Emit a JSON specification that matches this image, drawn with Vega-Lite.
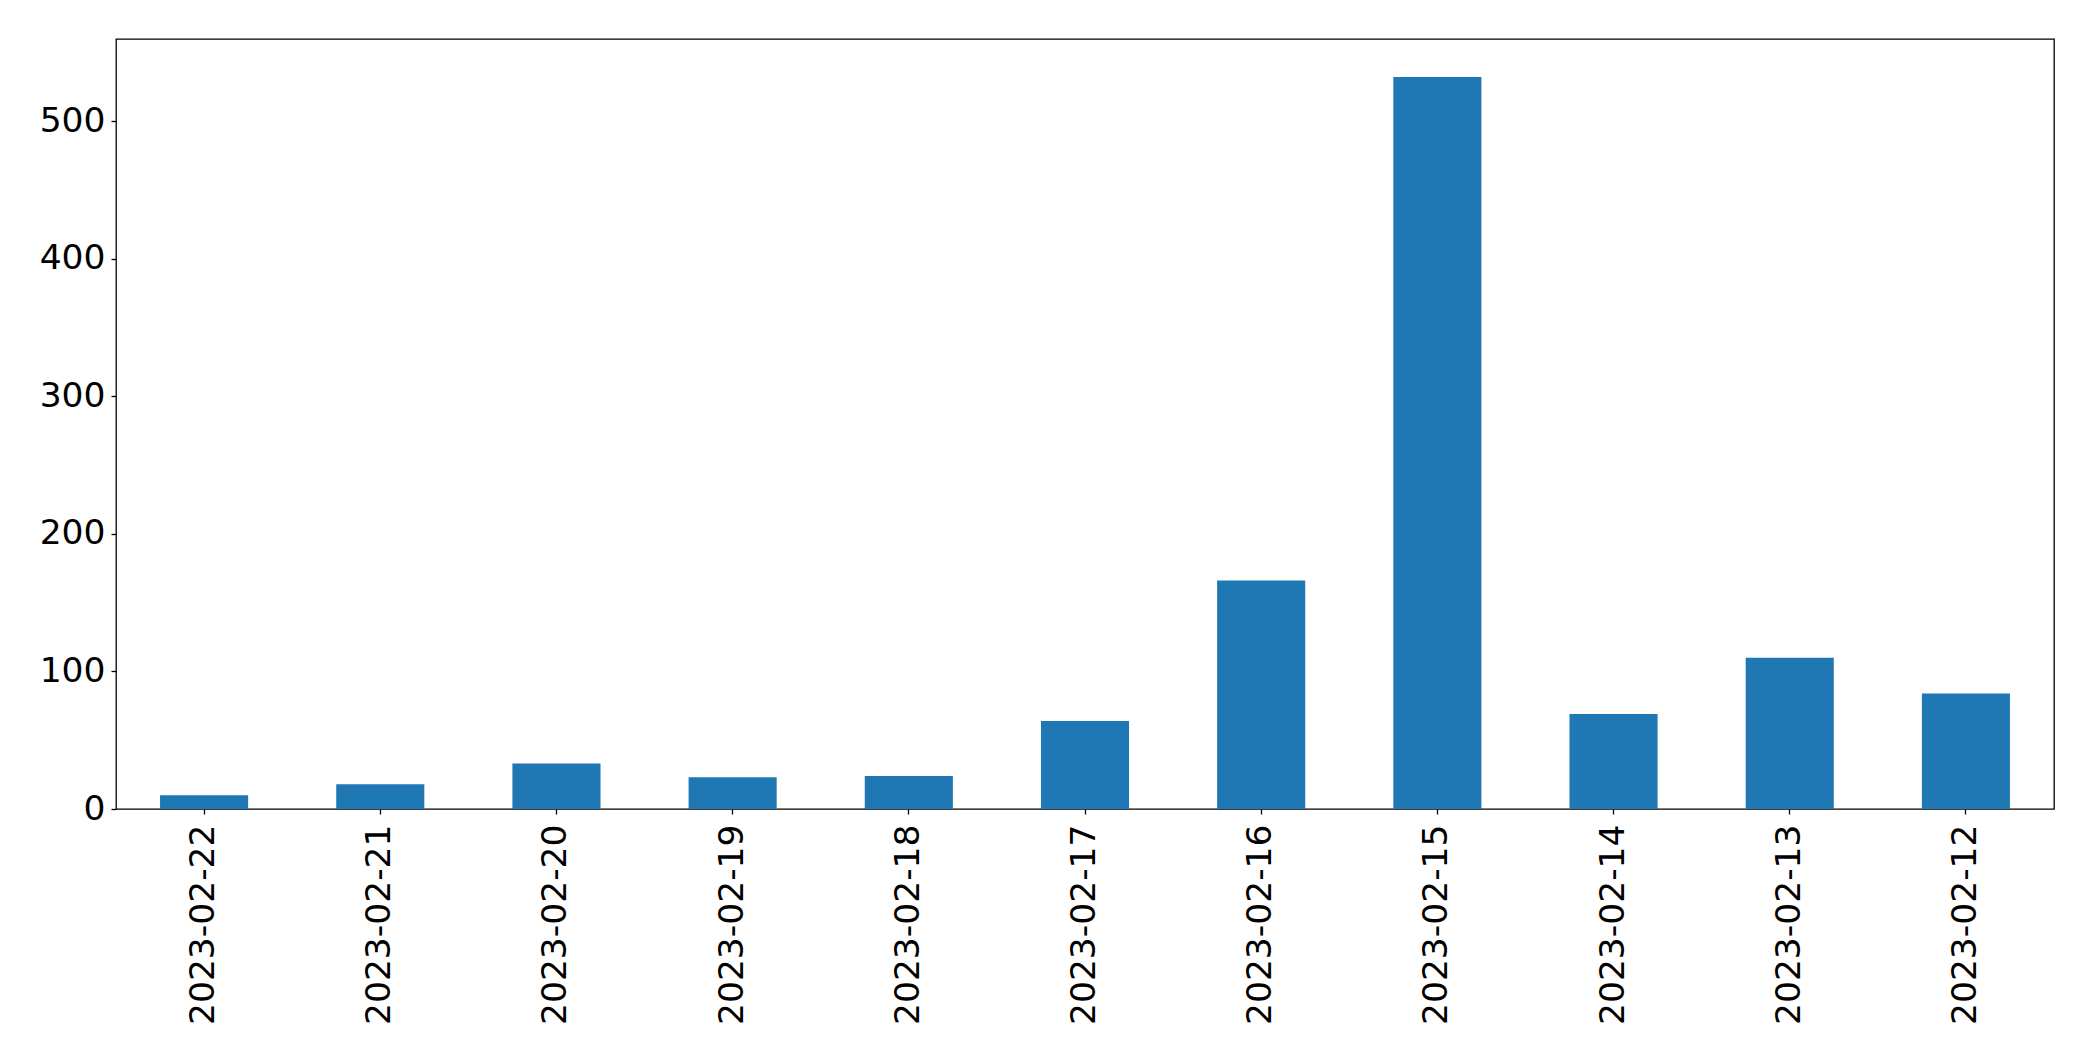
{
  "$schema": "https://vega.github.io/schema/vega-lite/v6.json",
  "width": 1938,
  "height": 770,
  "autosize": {"type": "none"},
  "padding": {"left": 116, "top": 39, "right": 39, "bottom": 252},
  "background": "white",
  "config": {
    "view": {"stroke": "black", "strokeWidth": 1.3},
    "font": "DejaVu Sans",
    "axis": {
      "grid": false,
      "domain": false,
      "tickColor": "black",
      "tickWidth": 1.3,
      "tickSize": 5,
      "labelColor": "black",
      "labelFont": "DejaVu Sans",
      "labelFontSize": 34.5,
      "labelLimit": 0,
      "title": null
    }
  },
  "data": {
    "values": [
      {"date": "2023-02-22", "count": 10},
      {"date": "2023-02-21", "count": 18},
      {"date": "2023-02-20", "count": 33},
      {"date": "2023-02-19", "count": 23},
      {"date": "2023-02-18", "count": 24},
      {"date": "2023-02-17", "count": 64},
      {"date": "2023-02-16", "count": 166},
      {"date": "2023-02-15", "count": 532},
      {"date": "2023-02-14", "count": 69},
      {"date": "2023-02-13", "count": 110},
      {"date": "2023-02-12", "count": 84}
    ]
  },
  "mark": {"type": "bar", "color": "#1f77b4"},
  "encoding": {
    "x": {
      "field": "date",
      "type": "nominal",
      "sort": null,
      "scale": {"paddingInner": 0.5, "paddingOuter": 0.25},
      "axis": {"labelAngle": 270, "labelAlign": "right", "labelBaseline": "middle", "labelPadding": 10}
    },
    "y": {
      "field": "count",
      "type": "quantitative",
      "scale": {"domain": [0, 559.6], "nice": false, "zero": true},
      "axis": {"values": [0, 100, 200, 300, 400, 500], "labelPadding": 6}
    }
  }
}
